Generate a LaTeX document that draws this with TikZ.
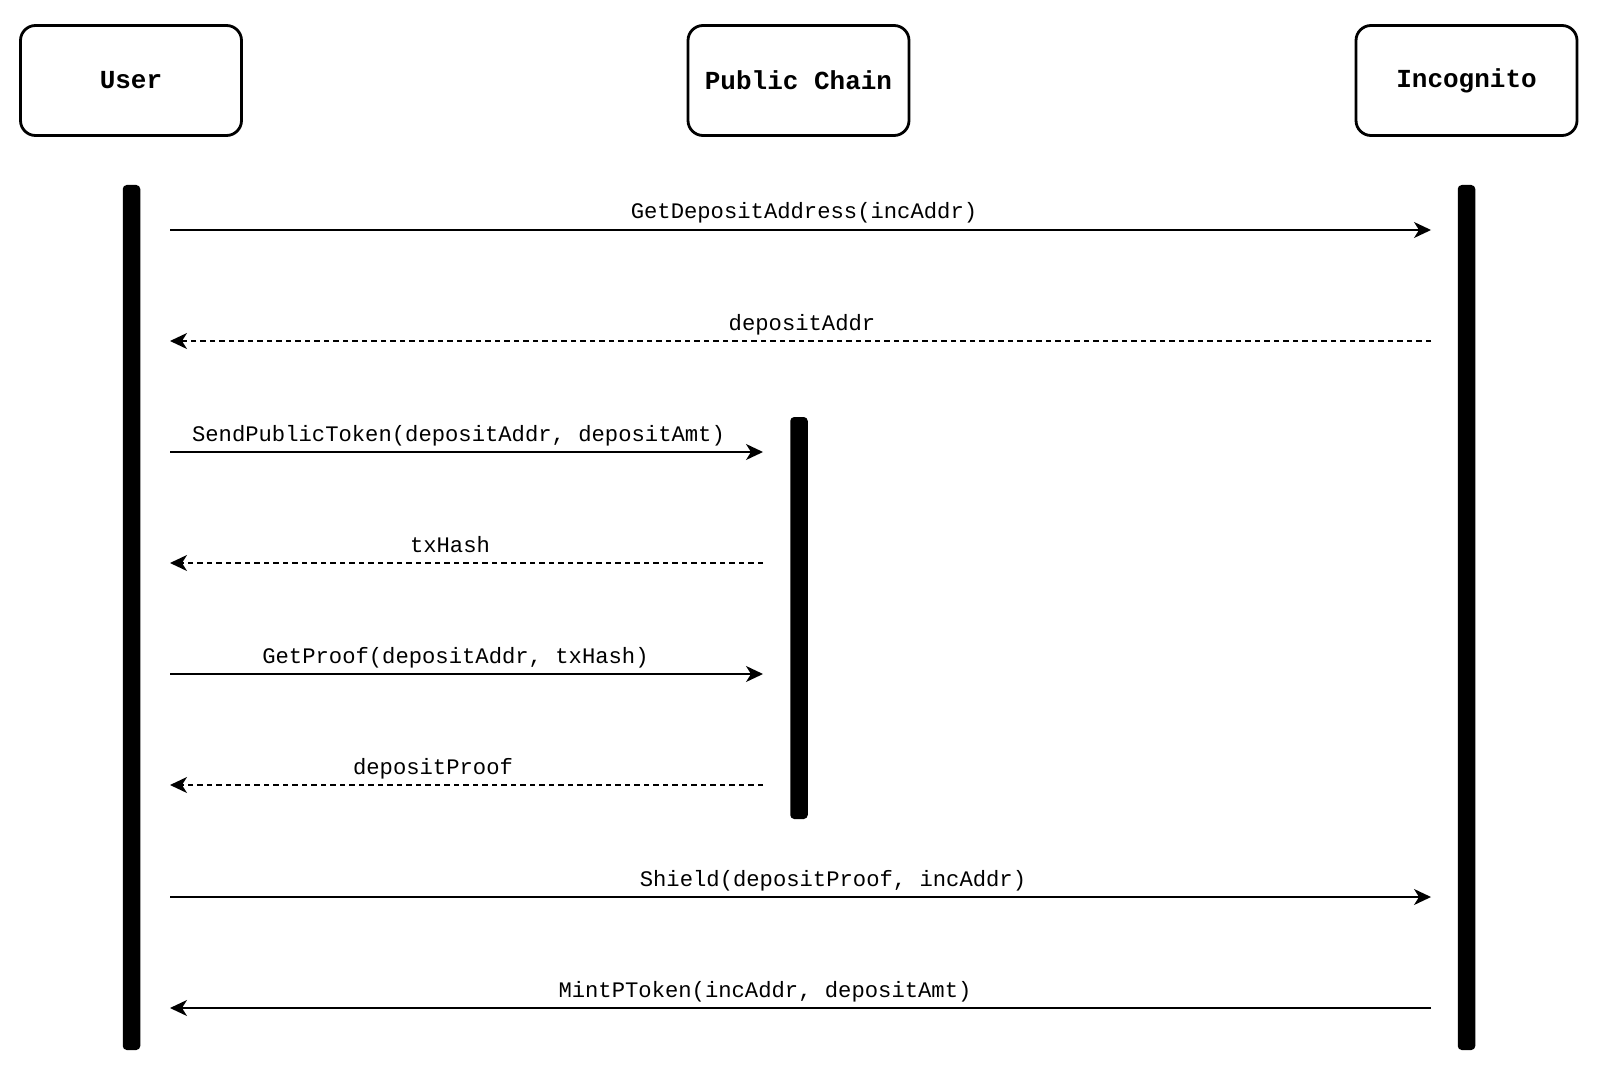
\documentclass[tikz,border=0pt]{standalone}
\usepackage{fontspec}
\setmonofont{Liberation Mono}
\usetikzlibrary{arrows.meta}
\tikzset{
  actor/.style={draw, line width=2.8pt, rounded corners=15pt, minimum width=221pt, minimum height=110pt, font=\ttfamily\bfseries\fontsize{26}{30}\selectfont, inner sep=0pt},
  lifebar/.style={fill=black, rounded corners=4pt, minimum width=17.5pt, inner sep=0pt},
  msg/.style={line width=1.5pt, -{Stealth[length=17pt,width=16pt,inset=5pt]}},
  reply/.style={msg, dash pattern=on 5.5pt off 4pt},
  lbl/.style={font=\ttfamily\fontsize{22.2}{26}\selectfont, anchor=base, inner sep=0pt}
}
\begin{document}
\begin{tikzpicture}[x=1pt,y=-1pt]
\useasboundingbox (0,0) rectangle (1600,1083);
% actors
\node[actor] (user) at (131,80.5) {User};
\node[actor] (chain) at (798.5,80.5) {Public Chain};
\node[actor] (inc) at (1466.5,80.5) {Incognito};
% lifelines
\node[lifebar, minimum height=865pt] (ubar) at (131.5,617.5) {};
\node[lifebar, minimum height=865pt] (ibar) at (1466.5,617.5) {};
\node[lifebar, minimum height=402pt] (cbar) at (799,618) {};
% message endpoints
\coordinate (u1) at (170,230);  \coordinate (i1) at (1431,230);
\coordinate (u2) at (170,341);  \coordinate (i2) at (1431,341);
\coordinate (u3) at (170,452);  \coordinate (c3) at (763,452);
\coordinate (u4) at (170,563);  \coordinate (c4) at (763,563);
\coordinate (u5) at (170,674);  \coordinate (c5) at (763,674);
\coordinate (u6) at (170,785);  \coordinate (c6) at (763,785);
\coordinate (u7) at (170,897);  \coordinate (i7) at (1431,897);
\coordinate (u8) at (170,1008); \coordinate (i8) at (1431,1008);
% messages
\draw[msg] (u1) -- (i1);
\node[lbl] (l1) at (804,219) {GetDepositAddress(incAddr)};
\draw[reply] (i2) -- (u2);
\node[lbl] (l2) at (802,330) {depositAddr};
\draw[msg] (u3) -- (c3);
\node[lbl] (l3) at (458.5,441) {SendPublicToken(depositAddr, depositAmt)};
\draw[reply] (c4) -- (u4);
\node[lbl] (l4) at (450,552) {txHash};
\draw[msg] (u5) -- (c5);
\node[lbl] (l5) at (455.5,663) {GetProof(depositAddr, txHash)};
\draw[reply] (c6) -- (u6);
\node[lbl] (l6) at (433,774) {depositProof};
\draw[msg] (u7) -- (i7);
\node[lbl] (l7) at (833,886) {Shield(depositProof, incAddr)};
\draw[msg] (i8) -- (u8);
\node[lbl] (l8) at (765,997) {MintPToken(incAddr, depositAmt)};
\end{tikzpicture}
\end{document}
